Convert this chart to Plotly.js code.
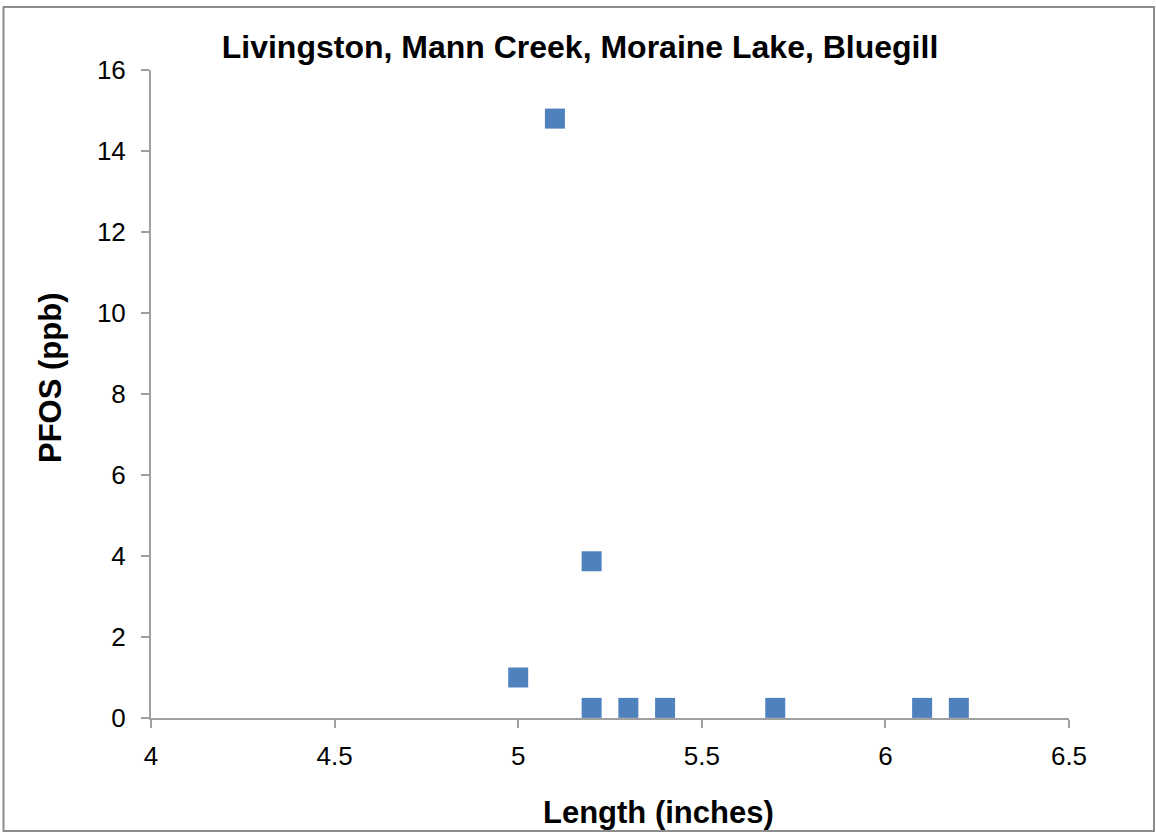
<!DOCTYPE html>
<html><head><meta charset="utf-8">
<script src="https://cdn.plot.ly/plotly-3.0.1.min.js"></script>
<style>html,body{margin:0;padding:0;background:#fff}#chart{width:1156px;height:833px}</style>
</head><body><div id="chart"></div>
<script>
const lengthInches = [5.1, 5.2, 5.0, 5.2, 5.3, 5.4, 5.7, 6.1, 6.2];
const pfosPpb = [14.8, 3.87, 1.0, 0.25, 0.25, 0.25, 0.25, 0.25, 0.25];
const xTicks = [4, 4.5, 5, 5.5, 6, 6.5];
const yTicks = [0, 2, 4, 6, 8, 10, 12, 14, 16];

const trace = {
  x: lengthInches, y: pfosPpb, type: 'scatter', mode: 'markers',
  marker: {symbol: 'square', size: 20, color: '#4F81BD', line: {width: 0}},
  cliponaxis: false, hoverinfo: 'x+y'
};
const fontFam = '"Liberation Sans", Arial, sans-serif';
const W = 1156, H = 833, L = 151, R = 87, T = 70, B = 115;
const pw = W - L - R, ph = H - T - B;
const px = v => (v - L) / pw;
const py = v => (H - B - v) / ph;
const layout = {
  width: W, height: H,
  margin: {l: L, r: R, t: T, b: B},
  paper_bgcolor: '#fff', plot_bgcolor: '#fff',
  font: {family: fontFam, color: '#000', size: 26},
  showlegend: false,
  title: {text: '<b>Livingston, Mann Creek, Moraine Lake, Bluegill</b>', font: {size: 32, family: fontFam},
          x: 580 / W, xref: 'container', xanchor: 'center', y: 1 - 47 / H, yref: 'container', yanchor: 'middle'},
  xaxis: {range: [4, 6.5], tickvals: xTicks, ticktext: xTicks.map(String), showgrid: false, zeroline: false,
          showline: true, linecolor: '#A0A0A0', linewidth: 2, ticks: 'outside', ticklen: 8, tickcolor: '#A0A0A0', tickwidth: 2,
          ticklabelstandoff: 6, tickfont: {size: 26}},
  yaxis: {range: [0, 16], tickvals: yTicks, ticktext: yTicks.map(String), showgrid: false, zeroline: false,
          showline: true, linecolor: '#A0A0A0', linewidth: 2, ticks: 'outside', ticklen: 8, tickcolor: '#A0A0A0', tickwidth: 2,
          ticklabelstandoff: 10, tickfont: {size: 26}},
  annotations: [
    {text: '<b>Length (inches)</b>', xref: 'paper', yref: 'paper', x: px(658), y: py(812), xanchor: 'center', yanchor: 'middle',
     showarrow: false, font: {size: 31}},
    {text: '<b>PFOS (ppb)</b>', xref: 'paper', yref: 'paper', x: px(50), y: py(378), xanchor: 'center', yanchor: 'middle',
     showarrow: false, textangle: -90, font: {size: 31}}
  ],
  shapes: [{type: 'rect', xref: 'paper', yref: 'paper',
            x0: px(3.5), x1: px(1154), y0: py(831), y1: py(7),
            line: {color: '#8C8C8C', width: 2}, fillcolor: 'rgba(0,0,0,0)', layer: 'below'}]
};
Plotly.newPlot('chart', [trace], layout, {displayModeBar: false, staticPlot: true});
</script></body></html>
